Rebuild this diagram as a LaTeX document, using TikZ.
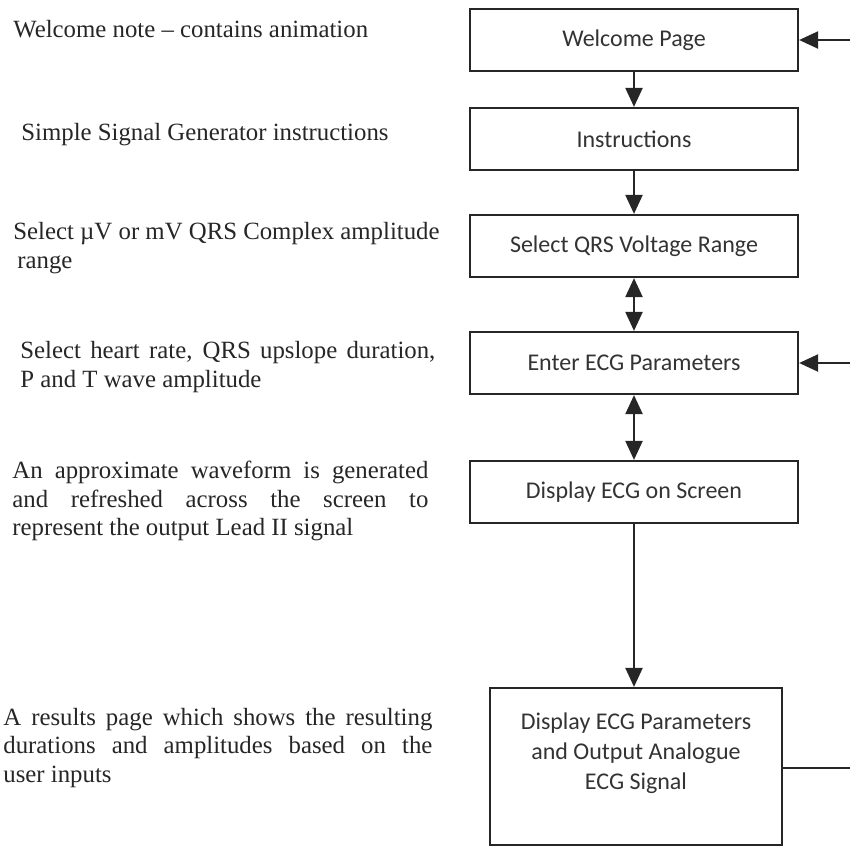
\documentclass[tikz,border=0pt]{standalone}
\usepackage{fontspec}
\setmainfont{Liberation Serif}
\newfontfamily\boxfont{Carlito}
\usetikzlibrary{arrows.meta,positioning}

\begin{document}
\begin{tikzpicture}[x=0.5pt,y=-0.5pt,>={Triangle[length=9.5pt,width=8.5pt]}]

% --- Styles ---
\tikzset{
    stepbox/.style={draw=black!85, line width=1.1pt, minimum width=164pt,
        minimum height=31pt, inner sep=0pt, font=\boxfont\fontsize{12}{15}\selectfont,
        text=black!80, align=center},
    note/.style={anchor=west, inner sep=0pt, font=\fontsize{12.4}{14.3}\selectfont,
        text=black!85, align=justify},
    flow/.style={->, line width=1.1pt, draw=black!85},
    twoway/.style={<->, line width=1.1pt, draw=black!85},
    feedback/.style={line width=1.1pt, draw=black!85}
}

\useasboundingbox (0,0) rectangle (850,847);

% --- Stappen (rechts) ---
\node[stepbox] (welcome) at (634, 40)  {Welcome Page};
\node[stepbox] (instr)   at (634, 139) {Instructions};
\node[stepbox] (range)   at (634, 246) {Select QRS Voltage Range};
\node[stepbox] (params)  at (634, 363) {Enter ECG Parameters};
\node[stepbox] (screen)  at (634, 492) {Display ECG on Screen};
\node[stepbox, minimum width=146pt, minimum height=78.5pt]
    (output) at (636, 766.5) {Display ECG Parameters\\and Output Analogue\\ECG Signal\\ \mbox{}};

% --- Toelichting (links) ---
\node[note, align=left] (n1) at (13, 29)  {Welcome note -- contains animation};
\node[note, align=left] (n2) at (21, 135) {Simple Signal Generator instructions};
\node[note, align=left] (n3) at (13, 248) {Select µV or mV QRS Complex amplitude\\\hspace*{2pt}range};
\node[note, text width=207.5pt] (n4) at (20, 367)
    {Select heart rate, QRS upslope duration,\linebreak P and T wave amplitude\par};
\node[note, text width=208pt] (n5) at (12, 501)
    {An approximate waveform is generated\linebreak and refreshed across the screen to\linebreak represent the output Lead II signal\par};
\node[note, text width=214.5pt] (n6) at (3, 748)
    {A results page which shows the resulting\linebreak durations and amplitudes based on the\linebreak user inputs\par};

% --- Pijlen ---
\draw[flow] (welcome) -- (instr);
\draw[flow] (instr) -- (range);
\draw[twoway] (range) -- (params);
\draw[twoway] (params) -- (screen);
\draw[flow] (screen.south) -- (screen.south |- output.north);

% Terugkoppeling vanaf de rechterrand
\coordinate (back1) at (850, 40);
\coordinate (back2) at (850, 363);
\coordinate (back3) at (850, 768);
\draw[flow] (back1) -- (welcome);
\draw[flow] (back2) -- (params);
\draw[feedback] (output.east |- back3) -- (back3);

\end{tikzpicture}
\end{document}
